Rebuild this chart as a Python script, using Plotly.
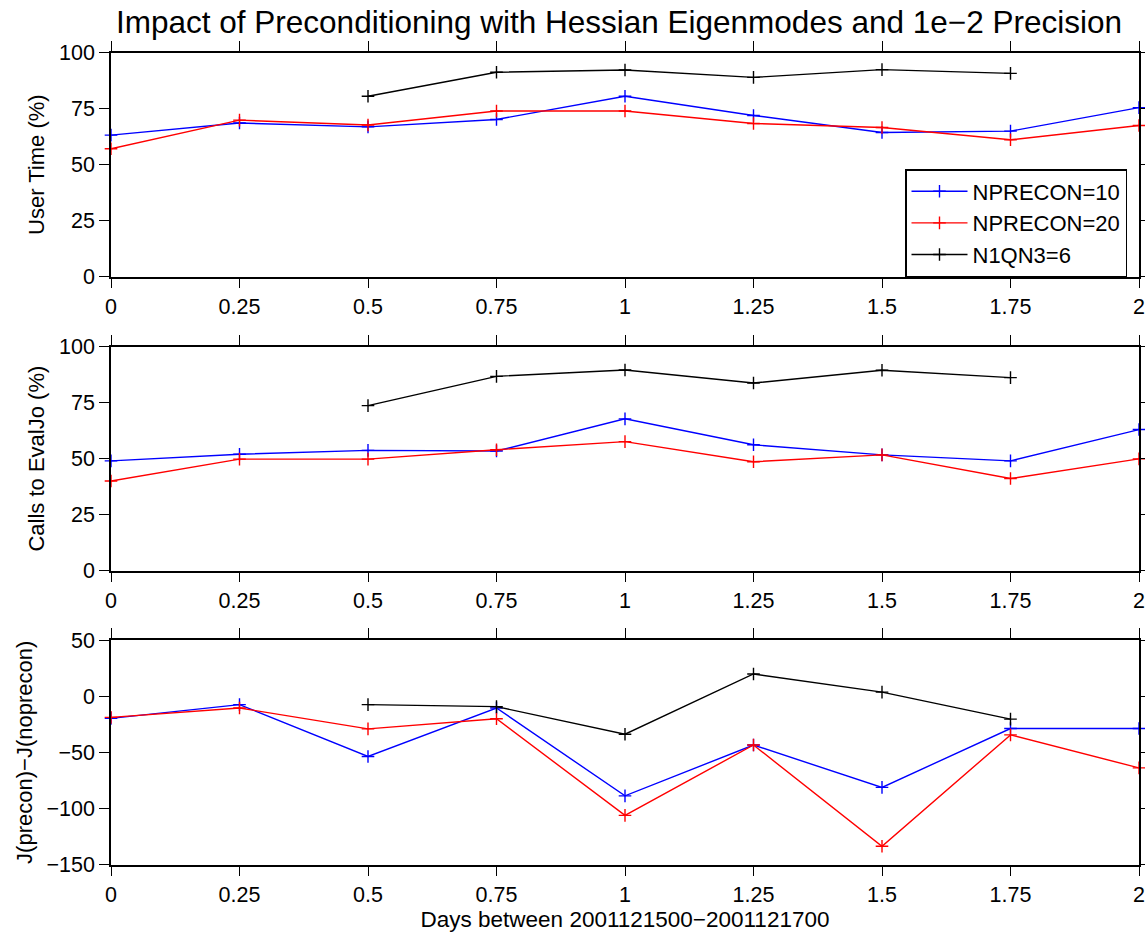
import plotly.graph_objects as go

# ---------------- data ----------------
days = [0, 0.25, 0.5, 0.75, 1, 1.25, 1.5, 1.75, 2]
days_n1qn3 = [0.5, 0.75, 1, 1.25, 1.5, 1.75]
x_tick_labels = ["0", "0.25", "0.5", "0.75", "1", "1.25", "1.5", "1.75", "2"]

series_names = ["NPRECON=10", "NPRECON=20", "N1QN3=6"]

user_np10 = [63.2, 68.6, 66.9, 70.2, 80.6, 72.0, 64.4, 65.0, 75.5]
user_np20 = [57.1, 69.9, 67.7, 74.0, 74.0, 68.4, 66.6, 61.1, 67.5]
user_n1qn3 = [80.6, 91.3, 92.3, 89.0, 92.5, 90.8]

calls_np10 = [49.0, 52.0, 53.7, 53.4, 67.8, 56.2, 51.7, 49.0, 63.0]
calls_np20 = [40.0, 49.8, 49.8, 54.0, 57.6, 48.6, 51.7, 41.1, 49.9]
calls_n1qn3 = [73.7, 86.8, 89.6, 83.8, 89.5, 86.2]

dj_np10 = [-19.8, -7.5, -53.7, -10.5, -88.8, -43.5, -81.3, -28.8, -28.8]
dj_np20 = [-18.9, -10.5, -29.1, -20.1, -106.2, -43.5, -133.8, -34.5, -63.9]
dj_n1qn3 = [-7.5, -9.3, -33.9, 19.8, 3.6, -20.4]

# ---------------- style ----------------
W, H = 1145, 932
FONT = "Liberation Sans, Arial, sans-serif"
colors = ["#0000ff", "#ff0000", "#000000"]

panels = [
    (user_np10, user_np20, user_n1qn3, "User Time (%)", [0, 100], [0, 25, 50, 75, 100]),
    (calls_np10, calls_np20, calls_n1qn3, "Calls to EvalJo (%)", [0, 100], [0, 25, 50, 75, 100]),
    (dj_np10, dj_np20, dj_n1qn3, "J(precon)\u2212J(noprecon)", [-150, 50], [-150, -100, -50, 0, 50]),
]

# pixel rows of each panel (top, bottom)
panel_px = [(52.8, 276.5), (346.8, 570.5), (640.1, 864.5)]
x_px = (111, 1139)

fig = go.Figure()

for i, (a, b, c, ytitle, yrange, yticks) in enumerate(panels):
    n = "" if i == 0 else str(i + 1)
    for j, (xv, yv) in enumerate([(days, a), (days, b), (days_n1qn3, c)]):
        fig.add_trace(go.Scatter(
            x=xv, y=yv, mode="lines+markers", name=series_names[j],
            xaxis="x" + n, yaxis="y" + n,
            line=dict(color=colors[j], width=1.4),
            marker=dict(symbol="cross-thin", size=9, color=colors[j],
                        line=dict(color=colors[j], width=1.4)),
            showlegend=(i == 0), cliponaxis=False,
        ))
    top, bot = panel_px[i]
    axis_common = dict(showline=True, linecolor="black", linewidth=1.5, mirror="ticks",
                       ticks="outside", ticklen=10, tickwidth=1.2, tickcolor="black",
                       showgrid=False, zeroline=False, automargin=False,
                       tickfont=dict(family=FONT, size=21.5, color="black"))
    xa = dict(axis_common, domain=[x_px[0] / W, x_px[1] / W], range=[0, 2],
              tickvals=days, ticktext=x_tick_labels, anchor="y" + n)
    if i == 2:
        xa["title"] = dict(text="Days between 2001121500\u22122001121700",
                           font=dict(family=FONT, size=22.5, color="black"), standoff=2)
    ya = dict(axis_common, domain=[1 - bot / H, 1 - top / H], range=yrange,
              tickvals=yticks, anchor="x" + n,
              title=dict(text=ytitle, font=dict(family=FONT, size=22, color="black"),
                         standoff=8))
    fig.layout["xaxis" + n] = xa
    fig.layout["yaxis" + n] = ya

fig.update_layout(
    width=W, height=H,
    margin=dict(l=0, r=0, t=0, b=0),
    paper_bgcolor="white", plot_bgcolor="white",
    title=dict(text="Impact of Preconditioning with Hessian Eigenmodes and 1e\u22122 Precision",
               font=dict(family=FONT, size=31.5, color="black"),
               x=619 / W, xanchor="center", y=1 - 22 / H, yanchor="middle"),
    legend=dict(x=1127 / W, xanchor="right", y=1 - 169 / H, yanchor="top",
                bordercolor="black", borderwidth=1.5, bgcolor="white",
                font=dict(family=FONT, size=22, color="black"),
                itemwidth=56, tracegroupgap=0),
    showlegend=True,
)

fig.write_html("out.html")
